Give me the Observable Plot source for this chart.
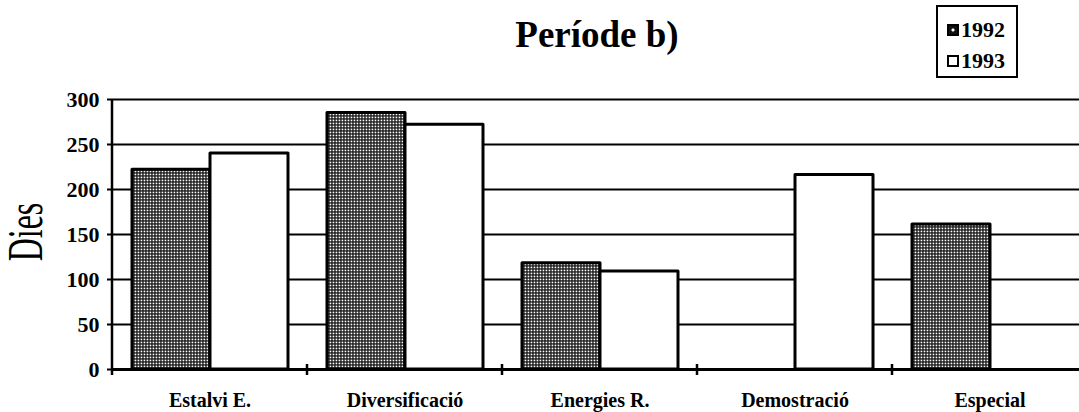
<!DOCTYPE html>
<html>
<head>
<meta charset="utf-8">
<script src="https://cdn.jsdelivr.net/npm/d3@7"></script>
<script src="https://cdn.jsdelivr.net/npm/@observablehq/plot@0.6"></script>
<style>
html, body { margin: 0; padding: 0; background: #fff; overflow: hidden; }
#wrap { position: relative; width: 1079px; height: 412px; font-family: "Liberation Serif", serif; color: #000; }
#head { position: relative; height: 80px; }
#title { position: absolute; left: 597px; top: 13px; transform: translateX(-50%); font-size: 37px; font-weight: bold; white-space: nowrap; line-height: normal; }
#legend { position: absolute; left: 936px; top: 5px; width: 78px; height: 69px; border: 2px solid #000; }
.li { position: absolute; left: 9px; height: 24px; display: flex; align-items: center; font-family: "Liberation Serif", serif; font-weight: bold; font-size: 22px; line-height: 1; }
.sw { width: 8px; height: 8px; border: 2px solid #000; margin-right: 2px; }
.sw.d { background: radial-gradient(circle, #fff 0 1.3px, #111 1.8px); }
.sw.w { background: #fff; }
#chart svg { display: block; overflow: visible; }
#chart svg text { font-family: "Liberation Serif", serif !important; }
</style>
</head>
<body>
<div id="wrap">
  <div id="head">
    <div id="title">Període b)</div>
    <div id="legend">
      <div class="li" style="top:11px"><div class="sw d"></div><span>1992</span></div>
      <div class="li" style="top:42px"><div class="sw w"></div><span>1993</span></div>
    </div>
  </div>
  <div id="chart"></div>
</div>
<script>
const categories = ["Estalvi E.", "Diversificació", "Energies R.", "Demostració", "Especial"];
const years = ["1992", "1993"];
const values1992 = [222, 285, 118, null, 161];
const values1993 = [240, 272, 109, 216, null];
const yTicks = [0, 50, 100, 150, 200, 250, 300];
const yLabel = "Dies";

const rows = [];
categories.forEach((c, i) => {
  if (values1992[i] != null) rows.push({category: c, year: years[0], value: values1992[i]});
  if (values1993[i] != null) rows.push({category: c, year: years[1], value: values1993[i]});
});

const plot = Plot.plot({
  width: 1079,
  height: 332,
  marginLeft: 110,
  marginRight: -10,
  marginTop: 19,
  marginBottom: 43,
  style: {fontFamily: "Liberation Serif", fontWeight: "bold", fontSize: "20px", color: "#000", background: "transparent"},
  fx: {domain: categories, padding: 0, label: null, tickSize: 0, tickPadding: 23, axis: "bottom"},
  x: {domain: years, axis: null, paddingInner: 0, paddingOuter: 0.24},
  y: {domain: [0, 300], ticks: yTicks, tickSize: 5, tickPadding: 8, label: null, tickFormat: d3.format("d")},
  marks: [
    Plot.ruleY(yTicks.slice(1), {stroke: "#000", strokeWidth: 2}),
    Plot.barY(rows.filter(d => d.year === years[0]), {fx: "category", x: "year", y: "value", fill: "url(#dots)", stroke: "#000", strokeWidth: 3, strokeLinejoin: "round"}),
    Plot.barY(rows.filter(d => d.year === years[1]), {fx: "category", x: "year", y: "value", fill: "#fff", stroke: "#000", strokeWidth: 3, strokeLinejoin: "round"}),
    Plot.ruleY([0], {stroke: "#000", strokeWidth: 3})
  ]
});
document.getElementById("chart").appendChild(plot);

const svg = d3.select(plot);
svg.insert("defs", ":first-child").html(
  '<pattern id="dots" width="3" height="3" patternUnits="userSpaceOnUse">' +
  '<rect width="3" height="3" fill="#141414"/><rect x="0.6" y="0.6" width="1.7" height="1.7" fill="#fff"/></pattern>'
);
svg.selectAll('[aria-label^="y-axis"] text').style("font-size", "22px");
svg.selectAll('[aria-label^="y-axis"] path, [aria-label^="y-axis"] line').attr("stroke-width", 2);

const y = plot.scale("y");
const fx = plot.scale("fx");
const y0 = y.apply(0), yTop = y.apply(300);
const left = fx.apply(categories[0]);
const g = svg.append("g").attr("stroke", "#000");
g.append("line").attr("x1", left).attr("x2", left).attr("y1", y0 + 6).attr("y2", yTop).attr("stroke-width", 2.5);
categories.forEach(c => {
  const bx = fx.apply(c) + fx.bandwidth;
  g.append("line").attr("x1", bx).attr("x2", bx).attr("y1", y0 - 5).attr("y2", y0 + 6).attr("stroke-width", 2.5);
});
svg.append("text")
  .attr("transform", `translate(42,${(y0 + yTop) / 2 - 2}) rotate(-90) scale(0.64,1)`)
  .attr("text-anchor", "middle")
  .style("font-weight", "normal")
  .style("font-size", "50px")
  .attr("fill", "#000")
  .text(yLabel);
</script>
</body>
</html>
